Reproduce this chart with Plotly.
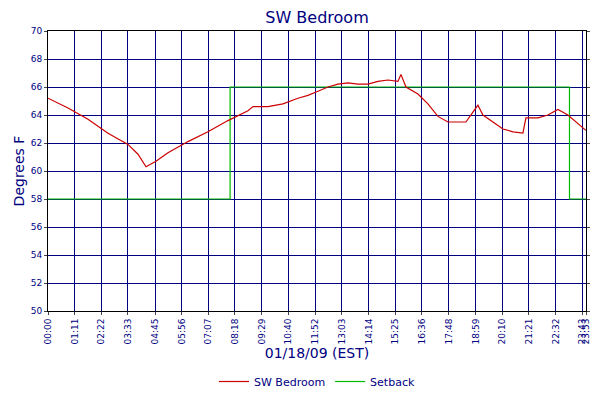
import plotly.graph_objects as go

tick_minutes = [0,71,142,213,285,356,427,498,569,640,712,783,854,925,996,1068,1139,1210,1281,1352,1423,1433]
tick_labels = ["00:00","01:11","02:22","03:33","04:45","05:56","07:07","08:18","09:29","10:40","11:52","13:03","14:14","15:25","16:36","17:48","18:59","20:10","21:21","22:32","23:43","23:53"]

temp_px = [40,60,80,100,120,130,138,148,160,180,200,220,240,245,260,275,290,300,310,320,330,340,350,360,370,380,390,393,398,410,420,430,440,450,458,465,470,475,485,495,505,515,518,530,540,550,560,570,578]
temp_val = [65.2,64.5,63.7,62.7,61.9,61.2,60.3,60.7,61.3,62.1,62.8,63.6,64.3,64.6,64.6,64.8,65.2,65.4,65.7,66.0,66.2,66.3,66.2,66.2,66.4,66.5,66.4,66.9,66.0,65.5,64.8,63.9,63.5,63.5,63.5,64.2,64.7,64.0,63.5,63.0,62.8,62.7,63.8,63.8,64.0,64.4,64.0,63.4,62.9]
temp_min = [(p-40)/0.3755 for p in temp_px]

setback_min = [0,485,485,1389,1389,1433]
setback_val = [58,58,66,66,58,58]

fig = go.Figure()
fig.add_trace(go.Scatter(x=setback_min, y=setback_val, mode="lines", name="Setback",
                         line=dict(color="#00bb00", width=1.2)))
fig.add_trace(go.Scatter(x=temp_min, y=temp_val, mode="lines", name="SW Bedroom",
                         line=dict(color="#cc0000", width=1.2)))
fig.add_trace(go.Scatter(x=[0], y=[50], yaxis="y2", showlegend=False, mode="markers",
                         marker=dict(opacity=0), hoverinfo="skip"))
axfont = dict(family="DejaVu Sans", size=9, color="#000080")
fig.update_layout(
    width=600, height=400, margin=dict(l=40, r=22, t=23, b=82),
    paper_bgcolor="white", plot_bgcolor="white",
    title=dict(text="SW Bedroom", x=0.515, xanchor="center", y=0.99, yanchor="top",
               font=dict(family="DejaVu Sans", size=16, color="#000080")),
    font=dict(family="DejaVu Sans", color="#000080"),
    legend_traceorder="reversed",
    xaxis=dict(range=[0,1433], tickvals=tick_minutes, ticktext=tick_labels, tickangle=-90,
               showgrid=True, gridcolor="#000080", gridwidth=1, tickfont=axfont, automargin=False,
               showline=True, linecolor="black", mirror=True, ticks="outside", ticklen=3,
               title=dict(text="01/18/09 (EST)", font=dict(size=14, color="#000080"), standoff=4)),
    yaxis=dict(range=[50,70], dtick=2, showgrid=True, gridcolor="#000080", tickfont=axfont, automargin=False,
               showline=True, linecolor="black", mirror=True, ticks="outside", ticklen=3,
               title=dict(text="Degrees F", font=dict(size=14, color="#000080"), standoff=2)),
    yaxis2=dict(range=[50,70], dtick=2, overlaying="y", side="right", tickfont=axfont, automargin=False,
                showgrid=False, ticks="outside", ticklen=3),
    legend=dict(orientation="h", x=0.5, xanchor="center", y=-0.2, yanchor="top",
                font=dict(size=11, color="#000080")),
)
fig.write_html("out.html")
